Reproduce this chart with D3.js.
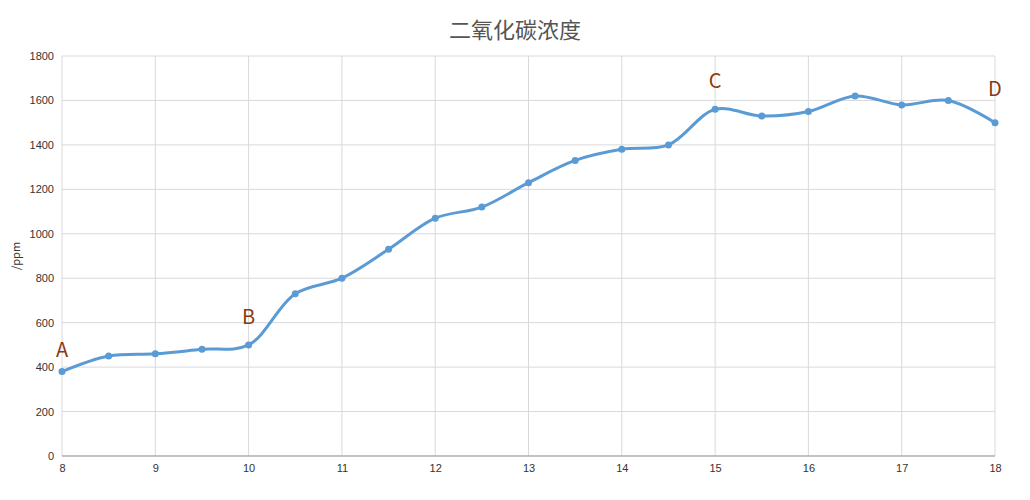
<!DOCTYPE html>
<html><head><meta charset="utf-8">
<script src="https://cdn.jsdelivr.net/npm/d3@7"></script>
<style>
body{margin:0;background:#fff;font-family:"Noto Sans CJK SC","Helvetica Neue",Arial,sans-serif;}
.axis text{font-size:11px;fill:#333;}
.axis path,.axis line{stroke:none;}
</style></head>
<body><div id="chart"></div>
<script>
var hours = [8,8.5,9,9.5,10,10.5,11,11.5,12,12.5,13,13.5,14,14.5,15,15.5,16,16.5,17,17.5,18];
var co2 = [380,450,460,480,500,730,800,930,1070,1120,1230,1330,1380,1400,1560,1530,1550,1620,1580,1600,1500];
var xTicks = [8,9,10,11,12,13,14,15,16,17,18];
var yTicks = [0,200,400,600,800,1000,1200,1400,1600,1800];
var markLabels = ["A","B","C","D"];
var markHours = [8,10,15,18];
var markValues = [470,620,1680,1645];

var width = 1030, height = 500;
var margin = {left:62, right:35, top:56, bottom:44};

var svg = d3.select("#chart").append("svg")
  .attr("width", width).attr("height", height);

var x = d3.scaleLinear().domain([8,18]).range([margin.left, width - margin.right]);
var y = d3.scaleLinear().domain([0,1800]).range([height - margin.bottom, margin.top]);

//grid
svg.append("g").selectAll("line").data(yTicks).enter().append("line")
  .attr("x1", x(8)).attr("x2", x(18))
  .attr("y1", function(d){return y(d);}).attr("y2", function(d){return y(d);})
  .attr("stroke", "#d9d9d9");
svg.append("g").selectAll("line").data(xTicks).enter().append("line")
  .attr("y1", y(0)).attr("y2", y(1800))
  .attr("x1", function(d){return x(d);}).attr("x2", function(d){return x(d);})
  .attr("stroke", "#d9d9d9");
svg.append("line").attr("x1", x(8)).attr("x2", x(18)).attr("y1", y(0)).attr("y2", y(0)).attr("stroke", "#999");

//axes
svg.append("g").attr("class","axis")
  .attr("transform","translate(0," + y(0) + ")")
  .call(d3.axisBottom(x).tickValues(xTicks).tickSize(0).tickPadding(8));
svg.append("g").attr("class","axis")
  .attr("transform","translate(" + x(8) + ",0)")
  .call(d3.axisLeft(y).tickValues(yTicks).tickFormat(d3.format("d")).tickSize(0).tickPadding(8));

svg.append("text").attr("transform","translate(20," + y(900) + ") rotate(-90)")
  .attr("text-anchor","middle").attr("font-size",11).attr("fill","#333").text("/ppm");

svg.append("text").attr("x", width/2).attr("y", 38).attr("text-anchor","middle")
  .attr("font-size",22).attr("fill","#555").text("二氧化碳浓度");

var data = hours.map(function(h,i){return {h:h, v:co2[i]};});
var line = d3.line().x(function(d){return x(d.h);}).y(function(d){return y(d.v);})
  .curve(d3.curveCatmullRom.alpha(0.5));

svg.append("path").datum(data).attr("d", line)
  .attr("fill","none").attr("stroke","#5b9bd5").attr("stroke-width",3);

svg.selectAll("circle.pt").data(data).enter().append("circle")
  .attr("cx", function(d){return x(d.h);}).attr("cy", function(d){return y(d.v);})
  .attr("r", 3.5).attr("fill","#5b9bd5");

svg.selectAll("text.mark").data(markLabels).enter().append("text")
  .attr("x", function(d,i){return x(markHours[i]);})
  .attr("y", function(d,i){return y(markValues[i]);})
  .attr("text-anchor","middle").attr("dominant-baseline","middle")
  .attr("font-size",20).attr("fill","#8b3a0f").text(function(d){return d;});
</script></body></html>
